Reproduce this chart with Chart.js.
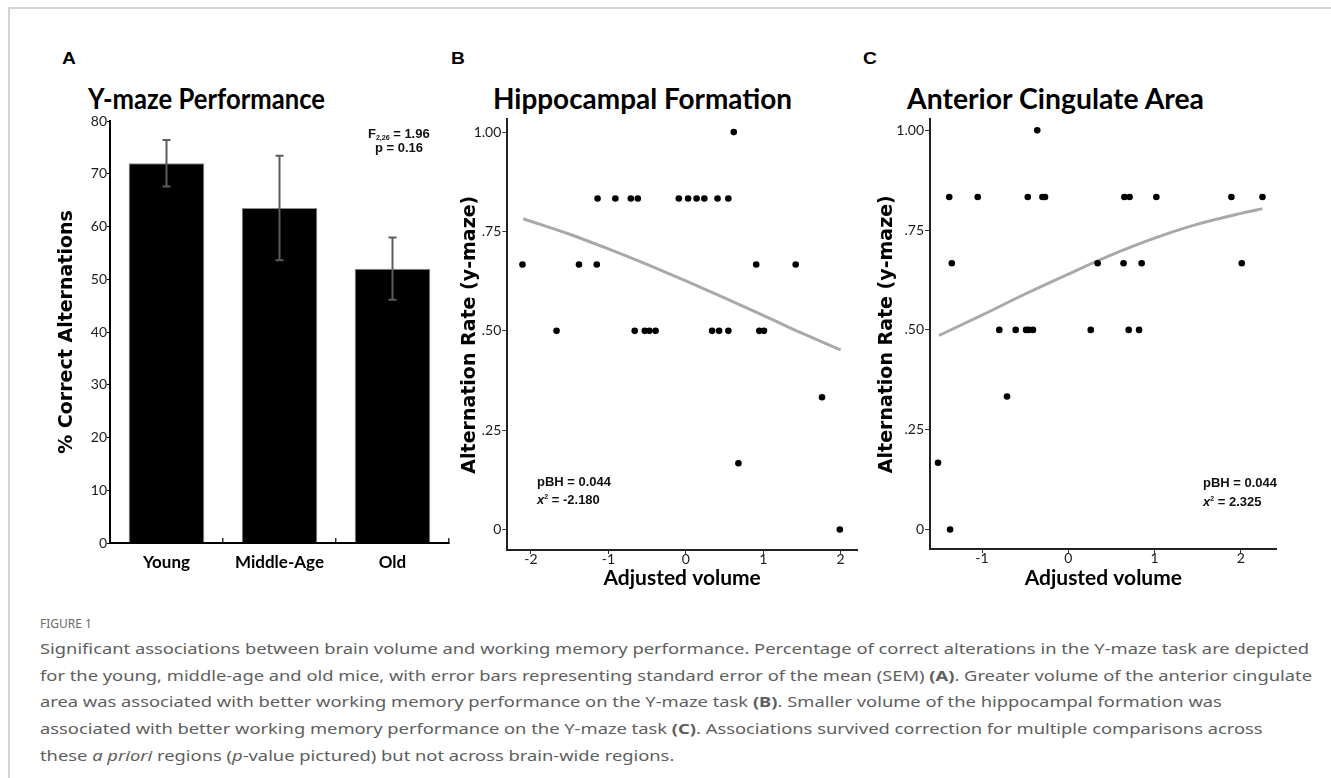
<!DOCTYPE html>
<html>
<head>
<meta charset="utf-8">
<script src="https://cdn.jsdelivr.net/npm/chart.js@4.4.0/dist/chart.umd.min.js"></script>
<style>
  body { margin: 0; background: #fff; width: 1331px; height: 778px; overflow: hidden; position: relative; }
  .frame { position: absolute; left: 8px; top: 7px; width: 1400px; height: 900px; border-top: 2px solid #d4d4d4; border-left: 2px solid #d4d4d4; }
  .box { position: absolute; }
  .t { position: absolute; white-space: nowrap; line-height: 1; }
  .letter { font-family: "Liberation Sans", Arial, sans-serif; font-weight: bold; font-size: 16px; color: #000; transform: scaleX(1.2); transform-origin: left center; }
  .title { font-family: Lato, sans-serif; font-weight: bold; font-size: 29px; color: #000; }
  .stat { font-family: "Liberation Sans Narrow", "Arial Narrow", "Liberation Sans", sans-serif; font-weight: bold; font-size: 13px; color: #111; }
  .stat sub { font-size: 7px; vertical-align: -2px; }
  .stat sup { font-size: 7px; vertical-align: 5px; }
  .fig { position: absolute; left: 40px; top: 615px; font-family: "Noto Sans", sans-serif; font-size: 12px; color: #6a6a6a; white-space: nowrap; }
  .cap { position: absolute; left: 40px; top: 635px; font-family: "Noto Sans", sans-serif; font-size: 15px; color: #5e5e5e; line-height: 26.7px; }
  .cap .ln { display: block; white-space: nowrap; transform-origin: left center; }
</style>
</head>
<body>
<div class="frame"></div>

<div class="t letter" style="left:62px; top:51px;">A</div>
<div class="t letter" style="left:451px; top:51px;">B</div>
<div class="t letter" style="left:863px; top:51px;">C</div>

<div class="t title" id="tA" style="left:88px; top:83px;" data-w="237">Y-maze Performance</div>
<div class="t title" id="tB" style="left:493px; top:83px;" data-w="299">Hippocampal Formation</div>
<div class="t title" id="tC" style="left:907px; top:83px;" data-w="297">Anterior Cingulate Area</div>

<div class="box" style="left:40px; top:110px; width:420px; height:470px;"><canvas id="chartA"></canvas></div>
<div class="box" style="left:420px; top:110px; width:450px; height:482px;"><canvas id="chartB"></canvas></div>
<div class="box" style="left:840px; top:110px; width:450px; height:482px;"><canvas id="chartC"></canvas></div>

<div class="t stat" style="left:368px; top:127px;">F<sub>2,26</sub> = 1.96</div>
<div class="t stat" style="right:908px; top:141px;">p = 0.16</div>
<div class="t stat" style="left:537px; top:475px;">pBH = 0.044</div>
<div class="t stat" style="left:537px; top:493px;"><i>x</i><sup>2</sup> = -2.180</div>
<div class="t stat" style="left:1203px; top:476px;">pBH = 0.044</div>
<div class="t stat" style="left:1203px; top:495px;"><i>x</i><sup>2</sup> = 2.325</div>

<div class="fig">FIGURE 1</div>
<div class="cap" id="cap">
<span class="ln">Significant associations between brain volume and working memory performance. Percentage of correct alterations in the Y-maze task are depicted</span>
<span class="ln">for the young, middle-age and old mice, with error bars representing standard error of the mean (SEM) <b>(A)</b>. Greater volume of the anterior cingulate</span>
<span class="ln">area was associated with better working memory performance on the Y-maze task <b>(B)</b>. Smaller volume of the hippocampal formation was</span>
<span class="ln">associated with better working memory performance on the Y-maze task <b>(C)</b>. Associations survived correction for multiple comparisons across</span>
<span class="ln">these <i>a priori</i> regions (<i>p</i>-value pictured) but not across brain-wide regions.</span>
</div>

<script>
// panel A - Y-maze performance by age group
const groups = ['Young', 'Middle-Age', 'Old'];
const meanAlt = [72.0, 63.5, 52.0];
const semAlt = [4.4, 9.9, 5.9];
const pctTicks = [0, 10, 20, 30, 40, 50, 60, 70, 80];

// panel B - hippocampal formation
const hipVol  = [0.62,
  -1.14, -0.91, -0.71, -0.62, -0.09, 0.03, 0.14, 0.24, 0.41, 0.55,
  -2.11, -1.38, -1.15, 0.91, 1.42,
  -1.67, -0.66, -0.53, -0.47, -0.39, 0.34, 0.43, 0.55, 0.95, 1.01,
  1.76, 0.68, 1.99];
const hipRate = [1.0,
  0.833, 0.833, 0.833, 0.833, 0.833, 0.833, 0.833, 0.833, 0.833, 0.833,
  0.667, 0.667, 0.667, 0.667, 0.667,
  0.5, 0.5, 0.5, 0.5, 0.5, 0.5, 0.5, 0.5, 0.5, 0.5,
  0.333, 0.167, 0];
const hipFitVol  = [-2.1, -1.5, -1.0, -0.5, 0, 0.5, 1.0, 1.5, 2.0];
const hipFitRate = [0.782, 0.743, 0.706, 0.667, 0.626, 0.583, 0.539, 0.494, 0.452];

// panel C - anterior cingulate area
const acaVol  = [-0.36,
  -1.38, -1.05, -0.47, -0.30, -0.27, 0.65, 0.71, 1.02, 1.89, 2.25,
  -1.35, 0.34, 0.64, 0.85, 2.01,
  -0.80, -0.61, -0.49, -0.46, -0.41, 0.26, 0.70, 0.82,
  -0.71, -1.51, -1.37];
const acaRate = [1.0,
  0.833, 0.833, 0.833, 0.833, 0.833, 0.833, 0.833, 0.833, 0.833, 0.833,
  0.667, 0.667, 0.667, 0.667, 0.667,
  0.5, 0.5, 0.5, 0.5, 0.5, 0.5, 0.5, 0.5,
  0.333, 0.167, 0];
const acaFitVol  = [-1.5, -1.0, -0.5, 0, 0.5, 1.0, 1.5, 2.0, 2.25];
const acaFitRate = [0.486, 0.537, 0.590, 0.640, 0.688, 0.730, 0.765, 0.792, 0.804];

const rateTicks = [0, 0.25, 0.5, 0.75, 1];
const volTicksB = [-2, -1, 0, 1, 2];
const volTicksC = [-1, 0, 1, 2];

const tickFont = { family: 'Lato', size: 14, weight: 'normal' };
const axisTitleFont = { family: 'DejaVu Sans', size: 19, weight: 'bold' };
const xTitleFont = { family: 'Lato', size: 21, weight: 'bold' };

function rateLabel(v) {
  if (v === 0) return '0';
  if (v === 1) return '1.00';
  return v.toFixed(2).replace(/^0/, '');
}

const errorBars = {
  id: 'errorBars',
  afterDatasetsDraw(chart) {
    const ctx = chart.ctx;
    const meta = chart.getDatasetMeta(0);
    const y = chart.scales.y;
    ctx.save();
    ctx.strokeStyle = '#5c5c5c';
    ctx.lineWidth = 2;
    meta.data.forEach((bar, i) => {
      const hi = y.getPixelForValue(meanAlt[i] + semAlt[i]);
      const lo = y.getPixelForValue(meanAlt[i] - semAlt[i]);
      ctx.beginPath();
      ctx.moveTo(bar.x, hi); ctx.lineTo(bar.x, lo);
      ctx.moveTo(bar.x - 4, hi); ctx.lineTo(bar.x + 4, hi);
      ctx.moveTo(bar.x - 4, lo); ctx.lineTo(bar.x + 4, lo);
      ctx.stroke();
    });
    ctx.restore();
  }
};

new Chart('chartA', {
  type: 'bar',
  data: {
    labels: groups,
    datasets: [{
      data: meanAlt,
      backgroundColor: '#000',
      borderColor: '#8c8c8c',
      borderWidth: 1,
      barPercentage: 0.67,
      categoryPercentage: 1
    }]
  },
  options: {
    responsive: true,
    maintainAspectRatio: false,
    animation: false,
    layout: { padding: { top: 11, right: 11, left: 0, bottom: 0 } },
    plugins: { legend: { display: false }, tooltip: { enabled: false } },
    scales: {
      x: {
        offset: true,
        grid: { offset: true, drawOnChartArea: false, tickLength: -5, color: '#333', lineWidth: 1.5 },
        border: { color: '#000', width: 2 },
        ticks: { color: '#000', padding: 14, font: { family: 'Lato', size: 17, weight: 'bold' } },
        afterFit: s => { s.height = 37; }
      },
      y: {
        min: 0,
        max: 80,
        afterBuildTicks: s => { s.ticks = pctTicks.map(v => ({ value: v })); },
        grid: { drawOnChartArea: false, tickLength: 3, color: '#000' },
        border: { color: '#000', width: 2 },
        ticks: { color: '#1a1a1a', padding: 0, font: tickFont },
        title: { display: true, text: '% Correct Alternations', color: '#000', font: axisTitleFont, padding: { top: 15.6, bottom: 0 } },
        afterFit: s => { s.width = 70; }
      }
    }
  },
  plugins: [errorBars]
});

function scatterPanel(id, vol, rate, fitVol, fitRate, xr, yr, volTicks, yAxisW, xAxisH, pad, yTitlePad) {
  return new Chart(id, {
    type: 'scatter',
    data: {
      datasets: [{
        data: vol.map((v, i) => ({ x: v, y: rate[i] })),
        backgroundColor: '#000',
        borderColor: '#000',
        pointRadius: 3.3,
        pointBorderWidth: 0
      }, {
        type: 'line',
        data: fitVol.map((v, i) => ({ x: v, y: fitRate[i] })),
        borderColor: '#a9a9a9',
        borderWidth: 3,
        pointRadius: 0,
        cubicInterpolationMode: 'monotone',
        fill: false
      }]
    },
    options: {
      responsive: true,
      maintainAspectRatio: false,
      animation: false,
      layout: { padding: pad },
      plugins: { legend: { display: false }, tooltip: { enabled: false } },
      scales: {
        x: {
          type: 'linear',
          min: xr[0],
          max: xr[1],
          afterBuildTicks: s => { s.ticks = volTicks.map(v => ({ value: v })); },
          grid: { drawOnChartArea: false, tickLength: 4, color: '#333' },
          border: { color: '#222', width: 2 },
          ticks: { color: '#1a1a1a', padding: -3, font: tickFont },
          title: { display: true, text: 'Adjusted volume', color: '#000', font: xTitleFont, padding: { top: 0, bottom: 1.4 } },
          afterFit: s => { s.height = xAxisH; }
        },
        y: {
          min: yr[0],
          max: yr[1],
          afterBuildTicks: s => { s.ticks = rateTicks.map(v => ({ value: v })); },
          grid: { drawOnChartArea: false, tickLength: 5, color: '#333' },
          border: { color: '#222', width: 2 },
          ticks: { color: '#1a1a1a', padding: 1, font: tickFont, callback: v => rateLabel(v) },
          title: { display: true, text: 'Alternation Rate (y-maze)', color: '#000', font: axisTitleFont, padding: { top: yTitlePad, bottom: 0 } },
          afterFit: s => { s.width = yAxisW; }
        }
      }
    }
  });
}

scatterPanel('chartB', hipVol, hipRate, hipFitVol, hipFitRate,
  [-2.306, 2.212], [-0.0514, 1.032], volTicksB, 87.3, 42,
  { top: 8, right: 13, left: 0, bottom: 0 }, 38.6);

scatterPanel('chartC', acaVol, acaRate, acaFitVol, acaFitRate,
  [-1.603, 2.415], [-0.049, 1.0275], volTicksC, 90, 43,
  { top: 8.3, right: 13.3, left: 0, bottom: 0 }, 35.3);

// squeeze the titles and caption to the widths in the figure
document.querySelectorAll('.title').forEach(el => {
  const w = el.getBoundingClientRect().width;
  el.style.transformOrigin = 'left center';
  el.style.transform = 'scaleX(' + (el.dataset.w / w) + ')';
});
const lines = document.querySelectorAll('#cap .ln');
const first = lines[0];
const cw = first.getBoundingClientRect().width;
const k = 1272 / cw;
lines.forEach(el => { el.style.transform = 'scaleX(' + k + ')'; });
</script>
</body>
</html>
